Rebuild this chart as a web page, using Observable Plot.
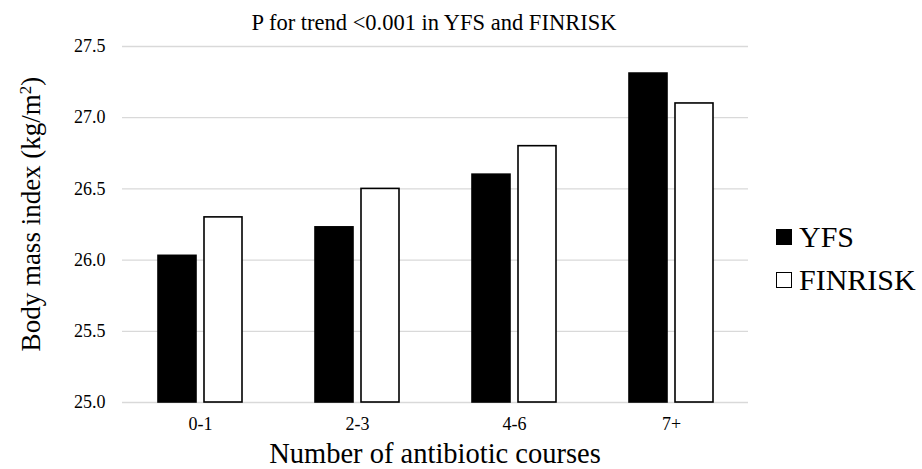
<!DOCTYPE html>
<html><head><meta charset="utf-8">
<script src="https://cdn.jsdelivr.net/npm/d3@7"></script>
<script src="https://cdn.jsdelivr.net/npm/@observablehq/plot@0.6"></script>
<style>
body{margin:0;background:#fff;}
#chart{position:relative;width:922px;height:469px;font-family:"Liberation Serif","Times New Roman",serif;}
#chart svg text{font-family:"Liberation Serif","Times New Roman",serif !important;}
.legend{position:absolute;left:776px;font-family:"Liberation Serif","Times New Roman",serif;font-size:30px;line-height:1;display:flex;align-items:center;color:#000;}
.legend span.sw{display:inline-block;width:16px;height:16px;border:1.5px solid #000;margin-right:7px;box-sizing:border-box;}
</style>
</head><body>
<div id="chart"></div>
<script>
const categories = ["0-1", "2-3", "4-6", "7+"];
const seriesNames = ["YFS", "FINRISK"];
const seriesFills = ["#000", "#fff"];
const yfsValues = [26.03, 26.23, 26.60, 27.31];
const finriskValues = [26.30, 26.50, 26.80, 27.10];
const yTicks = [25.0, 25.5, 26.0, 26.5, 27.0, 27.5];
const baseValue = 25.0;

const yfsData = categories.map((c, i) => ({cat: c, series: "YFS", value: yfsValues[i]}));
const finData = categories.map((c, i) => ({cat: c, series: "FINRISK", value: finriskValues[i]}));

const serif = '"Liberation Serif","Times New Roman",serif';
const chart = Plot.plot({
  width: 922,
  height: 469,
  marginLeft: 122,
  marginRight: 174,
  marginTop: 46,
  marginBottom: 67,
  style: {fontFamily: serif, fontSize: "18px", color: "#000", background: "#fff"},
  x: {domain: categories, paddingInner: 0.465, paddingOuter: 0.226, label: null},
  y: {domain: [25, 27.5], label: null},
  marks: [
    Plot.gridY(yTicks, {stroke: "#d9d9d9", strokeOpacity: 1, strokeWidth: 1.3}),
    Plot.axisY(yTicks, {tickSize: 0, tickPadding: 17, tickFormat: d3.format(".1f"), label: null, fontSize: 18, fontFamily: serif}),
    Plot.axisX({tickSize: 0, tickPadding: 15, label: null, fontSize: 18, fontFamily: serif}),
    Plot.barY(yfsData, {x: "cat", y1: baseValue, y2: "value", fill: seriesFills[0], stroke: "#000", strokeWidth: 1.6, insetLeft: 0, insetRight: 46}),
    Plot.barY(finData, {x: "cat", y1: baseValue, y2: "value", fill: seriesFills[1], stroke: "#000", strokeWidth: 1.6, insetLeft: 46, insetRight: 0})
  ]
});
document.getElementById("chart").appendChild(chart);

const svg = d3.select(chart);
svg.append("text").attr("x", 434).attr("y", 30).attr("text-anchor", "middle")
  .style("font-size", "22.5px")
  .text("P for trend <0.001 in YFS and FINRISK");
svg.append("text").attr("transform", "translate(40,214) rotate(-90)").attr("text-anchor", "middle")
  .style("font-size", "27px")
  .html('Body mass index (kg/m<tspan dy="-9" font-size="17">2</tspan><tspan dy="9">)</tspan>');
svg.append("text").attr("x", 435).attr("y", 463).attr("text-anchor", "middle")
  .style("font-size", "28.5px")
  .text("Number of antibiotic courses");
svg.selectAll("text, g").attr("font-family", serif).style("font-family", serif);

const host = document.getElementById("chart");
seriesNames.forEach((name, i) => {
  const d = document.createElement("div");
  d.className = "legend";
  d.style.top = (222 + i * 43) + "px";
  d.innerHTML = `<span class="sw" style="background:${seriesFills[i]}"></span>${name}`;
  host.appendChild(d);
});
</script>
</body></html>
